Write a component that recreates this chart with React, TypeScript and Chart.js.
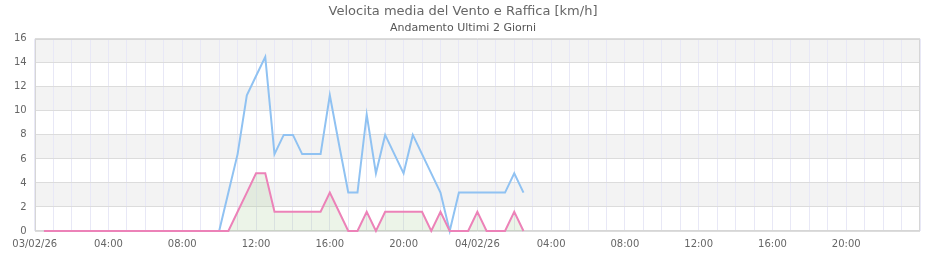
import React, { useEffect, useRef } from "react";
import { Chart, registerables } from "chart.js";

Chart.register(...registerables);

const titleText = "Velocita media del Vento e Raffica [km/h]";
const subtitleText = "Andamento Ultimi 2 Giorni";

const times = [
  "03/02 00:30", "03/02 01:00", "03/02 01:30", "03/02 02:00", "03/02 02:30", "03/02 03:00",
  "03/02 03:30", "03/02 04:00", "03/02 04:30", "03/02 05:00", "03/02 05:30", "03/02 06:00",
  "03/02 06:30", "03/02 07:00", "03/02 07:30", "03/02 08:00", "03/02 08:30", "03/02 09:00",
  "03/02 09:30", "03/02 10:00", "03/02 10:30", "03/02 11:00", "03/02 11:30", "03/02 12:00",
  "03/02 12:30", "03/02 13:00", "03/02 13:30", "03/02 14:00", "03/02 14:30", "03/02 15:00",
  "03/02 15:30", "03/02 16:00", "03/02 16:30", "03/02 17:00", "03/02 17:30", "03/02 18:00",
  "03/02 18:30", "03/02 19:00", "03/02 19:30", "03/02 20:00", "03/02 20:30", "03/02 21:00",
  "03/02 21:30", "03/02 22:00", "03/02 22:30", "03/02 23:00", "03/02 23:30",
  "04/02 00:00", "04/02 00:30", "04/02 01:00", "04/02 01:30", "04/02 02:00", "04/02 02:30",
];

const ventoMedio = [
  0, 0, 0, 0, 0, 0, 0, 0, 0, 0, 0, 0, 0, 0, 0, 0, 0, 0, 0, 0, 0,
  1.6, 3.2, 4.8, 4.8, 1.6, 1.6, 1.6, 1.6, 1.6, 1.6, 3.2, 1.6, 0, 0, 1.6, 0,
  1.6, 1.6, 1.6, 1.6, 1.6, 0, 1.6, 0, 0, 0,
  1.6, 0, 0, 0, 1.6, 0,
];

const raffica = [
  0, 0, 0, 0, 0, 0, 0, 0, 0, 0, 0, 0, 0, 0, 0, 0, 0, 0, 0, 0,
  3.2, 6.4, 11.3, 12.9, 14.5, 6.4, 8.0, 8.0, 6.4, 6.4, 6.4, 11.3, 7.2, 3.2, 3.2,
  9.7, 4.8, 8.0, 6.4, 4.8, 8.0, 6.4, 4.8, 3.2, 0, 3.2, 3.2,
  3.2, 3.2, 3.2, 3.2, 4.8, 3.2,
];

const yTicks = [0, 2, 4, 6, 8, 10, 12, 14, 16];
const dayLabels = ["03/02/26", "04/02/26"];

function toHours(s: string): number {
  const day = parseInt(s.slice(0, 2), 10) - 3;
  const hh = parseInt(s.slice(6, 8), 10);
  const mm = parseInt(s.slice(9, 11), 10);
  return day * 24 + hh + mm / 60;
}

const bandPlugin = {
  id: "bands",
  beforeDraw(chart: any) {
    const { ctx, chartArea, scales } = chart;
    const y = scales.y;
    ctx.save();
    ctx.fillStyle = "#ffffff";
    ctx.fillRect(chartArea.left, chartArea.top, chartArea.right - chartArea.left, chartArea.bottom - chartArea.top);
    for (let i = 0; i < yTicks.length - 1; i++) {
      if (i % 2 === 1) {
        const top = y.getPixelForValue(yTicks[i + 1]);
        const bot = y.getPixelForValue(yTicks[i]);
        ctx.fillStyle = "#f3f3f3";
        ctx.fillRect(chartArea.left, top, chartArea.right - chartArea.left, bot - top);
      }
    }
    ctx.restore();
  },
  beforeDatasetsDraw(chart: any) {
    const { ctx, chartArea } = chart;
    ctx.save();
    ctx.strokeStyle = "#d6d6d6";
    ctx.lineWidth = 1;
    ctx.strokeRect(
      Math.round(chartArea.left) + 0.5,
      Math.round(chartArea.top) + 0.5,
      Math.round(chartArea.right - chartArea.left) - 1,
      Math.round(chartArea.bottom - chartArea.top) - 1
    );
    ctx.restore();
  },
};

export default function App() {
  const ref = useRef<HTMLCanvasElement | null>(null);

  useEffect(() => {
    if (!ref.current) return;
    Chart.defaults.font.family = "'DejaVu Sans', sans-serif";
    const xs = times.map(toHours);
    const chart = new Chart(ref.current, {
      type: "line",
      data: {
        datasets: [
          {
            label: "Vento medio",
            data: xs.map((x, i) => ({ x, y: ventoMedio[i] })),
            borderColor: "#ec82b8",
            backgroundColor: "rgba(160,200,140,0.2)",
            borderWidth: 2,
            pointRadius: 0,
            fill: "origin",
            tension: 0,
            clip: 4,
          },
          {
            label: "Raffica",
            data: xs.map((x, i) => ({ x, y: raffica[i] })),
            borderColor: "#90c2f2",
            borderWidth: 2,
            pointRadius: 0,
            fill: false,
            tension: 0,
            clip: 4,
          },
        ],
      },
      options: {
        animation: false,
        responsive: true,
        maintainAspectRatio: false,
        layout: { padding: { left: 6, right: 20, top: 0, bottom: 3 } },
        plugins: {
          legend: { display: false },
          tooltip: { enabled: false },
          title: {
            display: true,
            text: titleText,
            color: "#666",
            font: { size: 13, weight: "normal" },
            padding: { top: 4, bottom: 2 },
          },
          subtitle: {
            display: true,
            text: subtitleText,
            color: "#555",
            font: { size: 11, weight: "normal" },
            padding: { top: 0, bottom: 4 },
          },
        },
        scales: {
          x: {
            type: "linear",
            min: 0,
            max: 48,
            grid: { color: "#e8e8f6", drawTicks: false },
            border: { display: false },
            ticks: {
              stepSize: 1,
              autoSkip: false,
              maxRotation: 0,
              padding: 7,
              color: "#666",
              font: { size: 10 },
              callback: (v: any) => {
                const n = Number(v);
                if (n % 4 !== 0 || n >= 48) return "";
                if (n % 24 === 0) return dayLabels[n / 24];
                const h = n % 24;
                return (h < 10 ? "0" : "") + h + ":00";
              },
            },
          },
          y: {
            min: 0,
            max: 16,
            grid: { color: "#dcdcdc", drawTicks: false },
            border: { display: false },
            ticks: {
              stepSize: 2,
              padding: 8,
              color: "#666",
              font: { size: 10 },
            },
          },
        },
      },
      plugins: [bandPlugin],
    });
    return () => chart.destroy();
  }, []);

  return (
    <div style={{ position: "absolute", left: 0, top: 0, width: 940, height: 260 }}>
      <canvas ref={ref} />
    </div>
  );
}
